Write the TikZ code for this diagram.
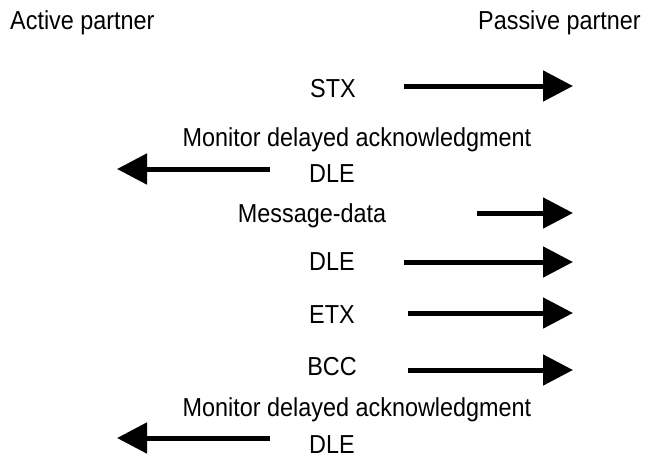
\documentclass[tikz,border=0pt]{standalone}
\usepackage{fontspec}
\setmainfont{Liberation Sans}[FakeStretch=0.9]
\usetikzlibrary{arrows.meta}
\begin{document}
\begin{tikzpicture}[x=1pt,y=-1pt,
  lbl/.style={inner sep=0pt,anchor=base,font=\fontsize{26}{30}\selectfont},
  sig/.style={line width=5pt,-{Triangle[length=30pt,width=30pt]}}]
\useasboundingbox (0,0) rectangle (656,459);
\node[lbl,anchor=base west] (act) at (10,29) {Active partner};
\node[lbl,anchor=base east] (pas) at (641,29) {Passive partner};
\node[lbl] (stx) at (333,97) {STX};
\node[lbl] (mon1) at (357,146) {Monitor delayed acknowledgment};
\node[lbl] (dle1) at (332,182) {DLE};
\node[lbl] (msg) at (312,222) {Message-data};
\node[lbl] (dle2) at (332,270) {DLE};
\node[lbl] (etx) at (332,323) {ETX};
\node[lbl] (bcc) at (332,375) {BCC};
\node[lbl] (mon2) at (357,416) {Monitor delayed acknowledgment};
\node[lbl] (dle3) at (332,453) {DLE};
\coordinate (a1s) at (404,86);  \coordinate (a1e) at (573,86);
\coordinate (a2s) at (270,169); \coordinate (a2e) at (117,169);
\coordinate (a3s) at (477,213); \coordinate (a3e) at (573,213);
\coordinate (a4s) at (404,262); \coordinate (a4e) at (573,262);
\coordinate (a5s) at (408,313); \coordinate (a5e) at (573,313);
\coordinate (a6s) at (408,370); \coordinate (a6e) at (573,370);
\coordinate (a7s) at (270,438); \coordinate (a7e) at (117,438);
\draw[sig] (a1s) -- (a1e);
\draw[sig] (a2s) -- (a2e);
\draw[sig] (a3s) -- (a3e);
\draw[sig] (a4s) -- (a4e);
\draw[sig] (a5s) -- (a5e);
\draw[sig] (a6s) -- (a6e);
\draw[sig] (a7s) -- (a7e);
\end{tikzpicture}
\end{document}
